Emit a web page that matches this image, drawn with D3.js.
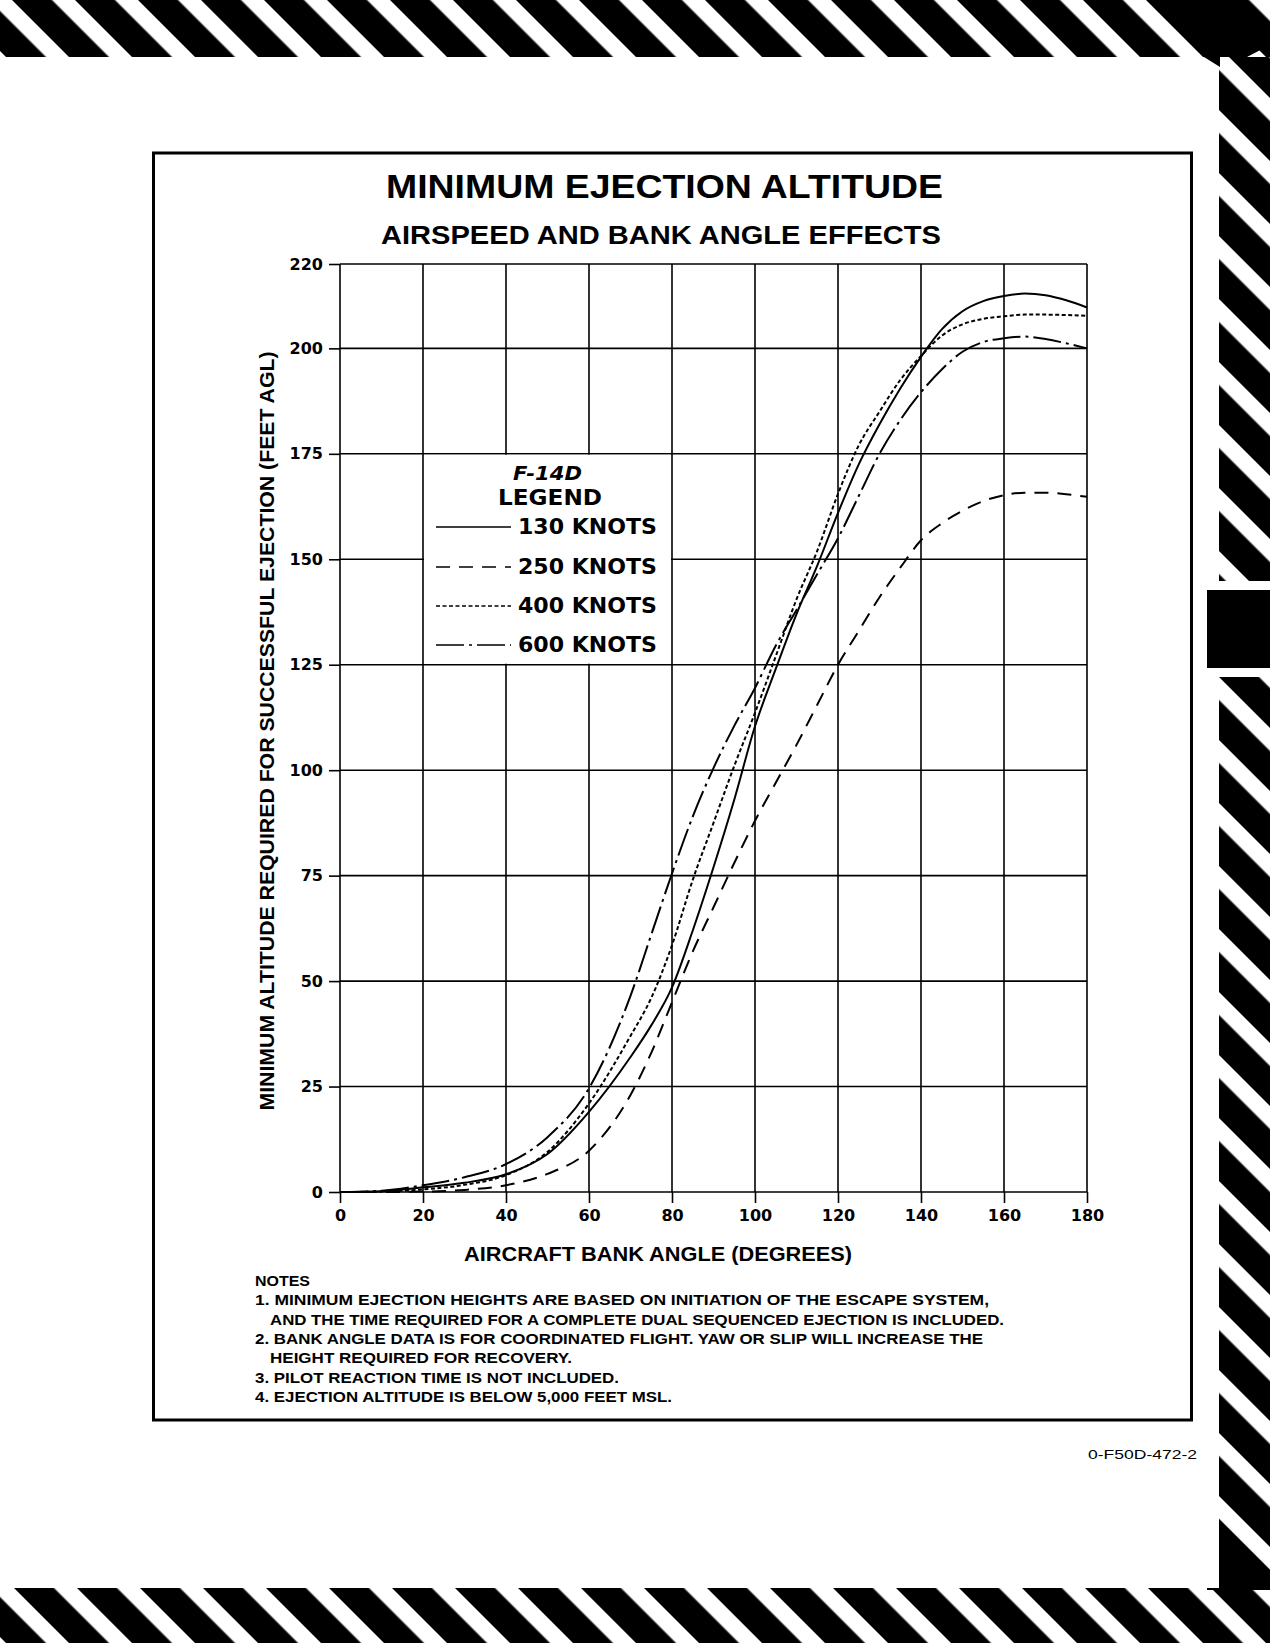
<!DOCTYPE html>
<html>
<head>
<meta charset="utf-8">
<script src="https://cdn.jsdelivr.net/npm/d3@7"></script>
<style>
  body { margin: 0; background: #fff; }
  svg { display: block; }
</style>
</head>
<body>
<svg id="page"></svg>
<script>
// bank angle (deg) and minimum ejection altitude (ft AGL)
const bank_angles   = [0, 10, 20, 30, 40, 50, 60, 70, 75, 80, 85, 90, 95, 100, 105, 110, 115, 120, 125, 130, 135, 140, 145, 150, 155, 160, 165, 170, 175, 180];
const alt_130_knots = [0, 0.2, 1.1, 2.2, 4.2, 9, 19, 32, 39.5, 48.5, 62, 77, 93, 110.4, 124, 137, 148.5, 161, 172.5, 182, 190.5, 198, 204.5, 208.8, 211.2, 212.4, 213, 212.6, 211.4, 209.7];
const alt_250_knots = [0, 0, 0.1, 0.5, 1.6, 4.3, 9.8, 23, 33, 45, 57, 67.5, 78, 88, 97, 106, 115.5, 125, 133, 141, 148, 154.5, 158.5, 161.5, 163.8, 165.2, 165.8, 165.8, 165.4, 164.8];
const alt_400_knots = [0, 0.1, 0.6, 1.7, 4, 9.5, 21, 37, 46, 58.5, 74, 87.5, 101, 113.6, 127, 140.5, 152, 165.5, 177, 185, 192.5, 198.2, 203, 205.7, 207, 207.6, 208, 208, 207.9, 207.7];
const alt_600_knots = [0, 0.3, 1.6, 3.5, 6.6, 13, 24.6, 46.5, 61, 75.5, 89, 100.5, 110.5, 119.5, 129.5, 138, 146.5, 155, 165, 175, 183, 189.6, 195, 199.2, 201.5, 202.4, 202.8, 202.2, 201.2, 200];

const series_names = ['130 KNOTS', '250 KNOTS', '400 KNOTS', '600 KNOTS'];
const x_ticks = [0, 20, 40, 60, 80, 100, 120, 140, 160, 180];
const y_ticks = [0, 25, 50, 75, 100, 125, 150, 175, 200, 220];

const notes_lines = [
    'NOTES',
    '1. MINIMUM EJECTION HEIGHTS ARE BASED ON INITIATION OF THE ESCAPE SYSTEM,',
    '   AND THE TIME REQUIRED FOR A COMPLETE DUAL SEQUENCED EJECTION IS INCLUDED.',
    '2. BANK ANGLE DATA IS FOR COORDINATED FLIGHT. YAW OR SLIP WILL INCREASE THE',
    '   HEIGHT REQUIRED FOR RECOVERY.',
    '3. PILOT REACTION TIME IS NOT INCLUDED.',
    '4. EJECTION ALTITUDE IS BELOW 5,000 FEET MSL.'
];

class EjectionChart {

    constructor( config, data ) {
        this.config = {
            parent: config.parent,
            width: config.width || 1270,
            height: config.height || 1643,
            margin: config.margin || {top:264, right:183, bottom:451, left:340}
        }
        this.data = data;
        this.init();
    }

    init() {
        let self = this;

        self.svg = d3.select( self.config.parent )
            .attr('width', self.config.width)
            .attr('height', self.config.height);

        self.inner_width = self.config.width - self.config.margin.left - self.config.margin.right;
        self.inner_height = self.config.height - self.config.margin.top - self.config.margin.bottom;

        self.xscale = d3.scaleLinear()
            .domain( [0, 180] )
            .range( [0, self.inner_width] );

        self.yscale = d3.scaleLinear()
            .domain( [0, 220] )
            .range( [self.inner_height, 0] );

        self.draw_frame();

        self.chart = self.svg.append('g')
            .attr('transform', `translate(${self.config.margin.left}, ${self.config.margin.top})`);
    }

    // hazard stripes round the page edge, black block on the right, outer box
    draw_frame() {
        let self = this;
        const defs = self.svg.append('defs');

        const stripes = (id, ox) => {
            const p = defs.append('pattern')
                .attr('id', id)
                .attr('patternUnits', 'userSpaceOnUse')
                .attr('width', 63 / Math.SQRT2)
                .attr('height', 20)
                .attr('patternTransform', `translate(${ox},0) rotate(-45)`);
            p.append('rect')
                .attr('width', 40 / Math.SQRT2)
                .attr('height', 20)
                .attr('fill', '#000');
        };
        stripes('st-top', 12);
        stripes('st-right', 38);
        stripes('st-bottom', 1);

        self.svg.append('rect').attr('width', 1270).attr('height', 1643).attr('fill', '#fff');

        self.svg.append('rect').attr('x', 0).attr('y', 0).attr('width', 1270).attr('height', 57)
            .attr('fill', 'url(#st-top)');
        self.svg.append('rect').attr('x', 1219).attr('y', 57).attr('width', 51).attr('height', 524)
            .attr('fill', 'url(#st-right)');
        self.svg.append('rect').attr('x', 1219).attr('y', 677).attr('width', 51).attr('height', 911)
            .attr('fill', 'url(#st-right)');
        self.svg.append('rect').attr('x', 0).attr('y', 1588).attr('width', 1270).attr('height', 55)
            .attr('fill', 'url(#st-bottom)');

        // corners where the bands meet
        self.svg.append('polygon')
            .attr('points', '1147,0 1247,0 1270,23 1270,45 1247,57 1220,57 1220,67 1204,57')
            .attr('fill', '#000');
        self.svg.append('polygon')
            .attr('points', '1219,1519 1270,1570 1270,1590 1207,1590 1207,1588 1219,1588')
            .attr('fill', '#000');

        self.svg.append('rect').attr('x', 1207).attr('y', 590).attr('width', 63).attr('height', 78)
            .attr('fill', '#000');

        self.svg.append('rect')
            .attr('x', 153.5).attr('y', 153)
            .attr('width', 1038).attr('height', 1267)
            .attr('fill', 'none')
            .attr('stroke', '#000')
            .attr('stroke-width', 3);
    }

    update() {
        let self = this;

        self.xvalue = d => d.angle;
        self.yvalue = d => d.altitude;

        self.line = d3.line()
            .x( d => self.xscale( self.xvalue(d) ) )
            .y( d => self.yscale( self.yvalue(d) ) )
            .curve( d3.curveMonotoneX );

        self.dashes = {
            '130 KNOTS': null,
            '250 KNOTS': '14,9',
            '400 KNOTS': '4,2.5',
            '600 KNOTS': '28,5,3,5'
        };

        self.render();
    }

    render() {
        let self = this;

        // grid
        self.chart.append('g')
            .selectAll('line')
            .data(x_ticks)
            .join('line')
            .attr('x1', d => self.xscale(d)).attr('x2', d => self.xscale(d))
            .attr('y1', 0).attr('y2', self.inner_height)
            .attr('stroke', '#000').attr('stroke-width', 1.6);

        self.chart.append('g')
            .selectAll('line')
            .data(y_ticks)
            .join('line')
            .attr('x1', 0).attr('x2', self.inner_width)
            .attr('y1', d => self.yscale(d)).attr('y2', d => self.yscale(d))
            .attr('stroke', '#000').attr('stroke-width', 1.6);

        // axes
        const xaxis = d3.axisBottom( self.xscale ).tickValues(x_ticks).tickSize(11).tickPadding(7);
        const yaxis = d3.axisLeft( self.yscale ).tickValues(y_ticks).tickSize(11).tickPadding(6);

        const xg = self.chart.append('g')
            .attr('transform', `translate(0, ${self.inner_height})`)
            .call( xaxis );
        const yg = self.chart.append('g')
            .call( yaxis );

        [xg, yg].forEach(g => {
            g.attr('font-family', '"DejaVu Sans", sans-serif')
                .attr('font-size', 16)
                .attr('font-weight', 'bold');
            g.select('.domain').remove();
            g.selectAll('.tick line').attr('stroke', '#000').attr('stroke-width', 1.6);
            g.selectAll('.tick text').attr('fill', '#000');
        });

        // legend box sits on the grid, blanking it out
        const lx0 = self.xscale(20), lx1 = self.xscale(80);
        const ly0 = self.yscale(175), ly1 = self.yscale(125);
        self.chart.append('rect')
            .attr('x', lx0 + 1).attr('y', ly0 + 1)
            .attr('width', lx1 - lx0 - 2).attr('height', ly1 - ly0 - 2)
            .attr('fill', '#fff');

        // curves
        self.chart.append('g')
            .selectAll('path')
            .data(self.data)
            .join('path')
            .attr('d', d => self.line(d.values))
            .attr('fill', 'none')
            .attr('stroke', '#000')
            .attr('stroke-width', 2)
            .attr('stroke-dasharray', d => self.dashes[d.name]);

        self.render_legend();
        self.render_text();
    }

    render_legend() {
        let self = this;
        const lg = self.svg.append('g')
            .attr('font-family', '"DejaVu Sans", sans-serif')
            .attr('font-weight', 'bold');

        lg.append('text')
            .attr('x', 513).attr('y', 480)
            .attr('font-size', 20)
            .attr('font-style', 'italic')
            .attr('textLength', 69)
            .attr('lengthAdjust', 'spacingAndGlyphs')
            .text('F-14D');
        lg.append('text')
            .attr('x', 498).attr('y', 505)
            .attr('font-size', 21)
            .attr('textLength', 104)
            .attr('lengthAdjust', 'spacingAndGlyphs')
            .text('LEGEND');

        const rows = [527, 567, 606, 645];
        const item = lg.selectAll('g.item')
            .data(self.data)
            .join('g')
            .attr('class', 'item')
            .attr('transform', (d, i) => `translate(0, ${rows[i]})`);

        item.append('line')
            .attr('x1', 436).attr('x2', 511)
            .attr('stroke', '#000')
            .attr('stroke-width', 1.6)
            .attr('stroke-dasharray', d => self.dashes[d.name]);

        item.append('text')
            .attr('x', 518).attr('y', 7)
            .attr('font-size', 21)
            .attr('textLength', 139)
            .attr('lengthAdjust', 'spacingAndGlyphs')
            .text(d => d.name);
    }

    render_text() {
        let self = this;
        const tg = self.svg.append('g')
            .attr('font-family', '"Liberation Sans", Arial, sans-serif')
            .attr('font-weight', 'bold')
            .attr('fill', '#000');

        tg.append('text')
            .attr('x', 386).attr('y', 198)
            .attr('font-size', 34)
            .attr('textLength', 557)
            .attr('lengthAdjust', 'spacingAndGlyphs')
            .text('MINIMUM EJECTION ALTITUDE');

        tg.append('text')
            .attr('x', 381).attr('y', 244)
            .attr('font-size', 26)
            .attr('textLength', 560)
            .attr('lengthAdjust', 'spacingAndGlyphs')
            .text('AIRSPEED AND BANK ANGLE EFFECTS');

        tg.append('text')
            .attr('x', 464).attr('y', 1261)
            .attr('font-size', 21)
            .attr('textLength', 388)
            .attr('lengthAdjust', 'spacingAndGlyphs')
            .text('AIRCRAFT BANK ANGLE (DEGREES)');

        tg.append('text')
            .attr('transform', 'translate(274, 731) rotate(-90)')
            .attr('text-anchor', 'middle')
            .attr('font-size', 20)
            .attr('textLength', 759)
            .attr('lengthAdjust', 'spacingAndGlyphs')
            .text('MINIMUM ALTITUDE REQUIRED FOR SUCCESSFUL EJECTION (FEET AGL)');

        // notes block
        const note_widths = [55, 734, 734, 728, 302, 364, 417];
        tg.selectAll('text.note')
            .data(notes_lines)
            .join('text')
            .attr('class', 'note')
            .attr('x', d => d.startsWith('   ') ? 270 : 255)
            .attr('y', (d, i) => 1286 + i * 19.3)
            .attr('font-size', 15)
            .attr('textLength', (d, i) => note_widths[i])
            .attr('lengthAdjust', 'spacingAndGlyphs')
            .text(d => d.trim());

        self.svg.append('text')
            .attr('x', 1088).attr('y', 1459)
            .attr('font-family', '"Liberation Sans", Arial, sans-serif')
            .attr('font-size', 13)
            .attr('textLength', 109)
            .attr('lengthAdjust', 'spacingAndGlyphs')
            .text('0-F50D-472-2');
    }
}

const data = [alt_130_knots, alt_250_knots, alt_400_knots, alt_600_knots].map((alts, i) => ({
    name: series_names[i],
    values: bank_angles.map((a, j) => ({ angle: a, altitude: alts[j] }))
}));

const chart = new EjectionChart({ parent: '#page' }, data);
chart.update();
</script>
</body>
</html>
